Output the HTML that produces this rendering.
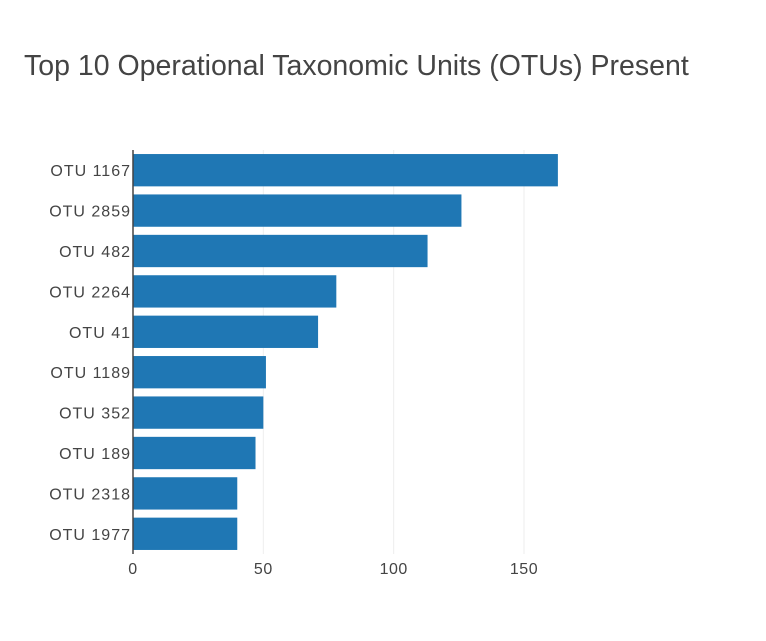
<!DOCTYPE html>
<html><head><meta charset="utf-8"><style>
body{margin:0;background:#fff;}
svg text{font-family:"Liberation Sans",sans-serif;fill:#444;}
</style></head><body>
<svg id="chart" width="766" height="636" xmlns="http://www.w3.org/2000/svg">
<text x="24" y="75" font-size="28.5">Top 10 Operational Taxonomic Units (OTUs) Present</text>
<g id="grid"></g><g id="bars"></g><g id="labels"></g>
<line x1="133" y1="150" x2="133" y2="554" stroke="#444" stroke-width="1.5"/>
</svg>
<script>
const categories=["OTU 1167","OTU 2859","OTU 482","OTU 2264","OTU 41","OTU 1189","OTU 352","OTU 189","OTU 2318","OTU 1977"];
const values=[163,126,113,78,71,51,50,47,40,40];
const xTicks=[0,50,100,150];
const ns="http://www.w3.org/2000/svg";
const x0=133,pxPer=(524-133)/150,plotTop=150,plotBottom=554;
const band=(plotBottom-plotTop)/categories.length;
const xs=v=>x0+v*pxPer;
const grid=document.getElementById('grid'),bars=document.getElementById('bars'),labels=document.getElementById('labels');
function mk(t,a,p){const e=document.createElementNS(ns,t);for(const k in a)e.setAttribute(k,a[k]);p.appendChild(e);return e;}
xTicks.forEach(t=>{
 if(t>0){const g=mk('line',{x1:xs(t),x2:xs(t),y1:plotTop,y2:plotBottom,stroke:'#eee','stroke-width':1},grid);
 
 }
 const l=mk('text',{x:xs(t),y:574,'font-size':16,'text-anchor':'middle','letter-spacing':0.5},labels);
 l.textContent=t;
 
 
});
categories.forEach((c,i)=>{
 const y=plotTop+i*band;
 const r=mk('rect',{x:x0,y:y+band*0.1,width:xs(values[i])-x0,height:band*0.8,fill:'#1f77b4'},bars);
 
 
 const l=mk('text',{x:131,y:y+band/2+6,'font-size':16,'text-anchor':'end','letter-spacing':1},labels);
 l.textContent=c;
 
 
});
</script>
</body></html>
